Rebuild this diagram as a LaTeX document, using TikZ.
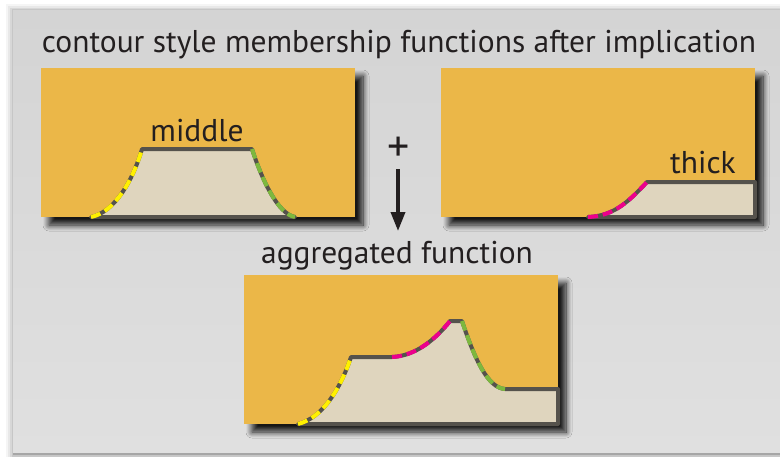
\documentclass[tikz,border=0pt]{standalone}
\usepackage{fontspec}
\setmainfont{PT Sans}
\usetikzlibrary{shadows.blur,arrows.meta}
\definecolor{panelA}{RGB}{212,212,212}
\definecolor{panelB}{RGB}{224,224,224}
\definecolor{boxorange}{RGB}{235,183,72}
\definecolor{mfill}{RGB}{223,213,190}
\definecolor{mline}{RGB}{85,82,76}
\definecolor{cyellow}{RGB}{255,240,0}
\definecolor{cpink}{RGB}{236,0,140}
\definecolor{cgreen}{RGB}{125,184,62}
\definecolor{txt}{RGB}{35,31,32}
\tikzset{
  orangebox/.style={fill=boxorange, blur shadow={shadow xshift=8pt, shadow yshift=-8pt, shadow blur radius=6pt, shadow opacity=90, shadow blur steps=10}},
  mshape/.style={fill=mfill, draw=mline, line width=4pt, line join=round},
  dashcol/.style={draw=#1, line width=4pt, dash pattern=on 10pt off 5pt},
  label/.style={text=txt, font=\fontsize{31.5}{32}\selectfont, inner sep=0pt, anchor=base},
}
\begin{document}
\begin{tikzpicture}[x=1pt,y=-1pt]
\useasboundingbox (0,0) rectangle (780,456);
\fill[white] (0,0) rectangle (780,456);
% panel
\fill[black, opacity=0.04] (6,4) rectangle (790,460);
\fill[black, opacity=0.05] (8,6) rectangle (790,460);
\fill[black, opacity=0.07] (10,8) rectangle (790,460);
\fill[black, opacity=0.08] (12,9) rectangle (790,460);
\shade[top color=panelA, bottom color=panelB] (13,10) rectangle (790,454);
\fill[black!35] (13,453) rectangle (790,455);

% title
\node[label] (title) at (399,52) {contour style membership functions after implication};

% left box
\path[orangebox] (41,68) rectangle (355,217);
\path[mshape] (91,217) .. controls (115,212) and (133,180) .. (142,149) -- (252,149)
   .. controls (262,180) and (278,214) .. (295,217) -- cycle;
\path[dashcol=cyellow] (91,217) .. controls (115,212) and (133,180) .. (142,149);
\path[dashcol=cgreen] (252,149) .. controls (262,180) and (278,214) .. (295,217);
\node[label] (middle) at (197,141) {middle};

% right box
\path[orangebox] (441,68) rectangle (755,217);
\path[mshape] (588,217) .. controls (615,216) and (630,200) .. (647,182) -- (755,182) -- (755,217) -- cycle;
\path[dashcol=cpink] (588,217) .. controls (615,216) and (630,200) .. (647,182);
\node[label] (thick) at (703,173) {thick};

% plus and arrow
\node[text=txt, font=\fontsize{44}{44}\selectfont, inner sep=0pt] (plus) at (399,149) {+};
\coordinate (arrS) at (398,169);
\coordinate (arrE) at (398,231);
\draw[txt, line width=3.6pt, -{Triangle[length=19pt,width=14pt]}] (arrS) -- (arrE);

% aggregated
\node[label] (agg) at (397,263) {aggregated function};
\path[orangebox] (244,275) rectangle (558,424);
\path[mshape] (298,424) .. controls (322,418) and (340,390) .. (351,357) -- (392,357)
   .. controls (415,356) and (435,340) .. (450,321) -- (462,321)
   .. controls (475,360) and (488,388) .. (505,389) -- (558,389) -- (558,424) -- cycle;
\path[dashcol=cyellow] (298,424) .. controls (322,418) and (340,390) .. (351,357);
\path[dashcol=cpink] (392,357) .. controls (415,356) and (435,340) .. (450,321);
\path[dashcol=cgreen] (462,321) .. controls (475,360) and (488,388) .. (505,389);
\end{tikzpicture}
\end{document}
